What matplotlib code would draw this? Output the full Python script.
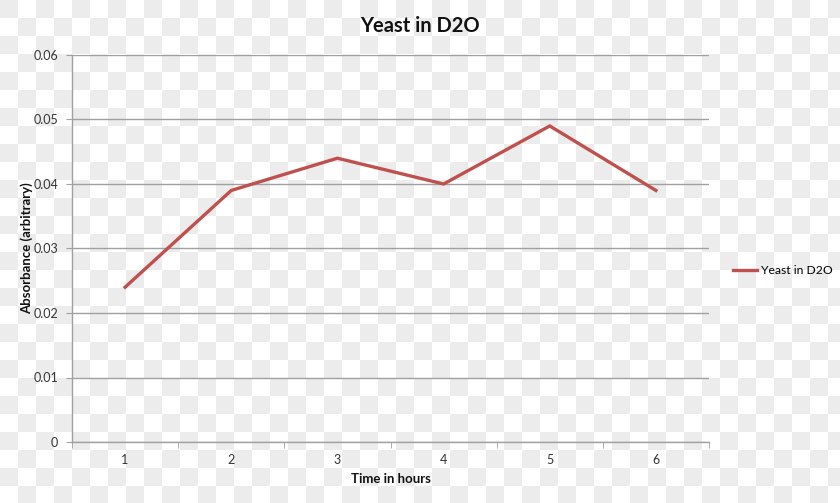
import numpy as np
import matplotlib
matplotlib.use("Agg")
import matplotlib.pyplot as plt

hours = [1, 2, 3, 4, 5, 6]
absorbance = [0.024, 0.039, 0.044, 0.040, 0.049, 0.039]
series_name = "Yeast in D2O"
yticks = [0, 0.01, 0.02, 0.03, 0.04, 0.05, 0.06]
ytick_labels = ["0", "0.01", "0.02", "0.03", "0.04", "0.05", "0.06"]

plt.rcParams['font.family'] = ['Lato', 'DejaVu Sans']

W, H = 840, 503
fig = plt.figure(figsize=(W / 100, H / 100), dpi=100)

# checkerboard background
bg = fig.add_axes([0, 0, 1, 1], zorder=0)
sq = 18
yy, xx = np.mgrid[0:H, 0:W]
checker = ((xx // sq + yy // sq) % 2 == 0)
img = np.where(checker, 0.922, 1.0)
bg.imshow(img, cmap='gray', vmin=0, vmax=1, aspect='auto', interpolation='nearest',
          extent=[0, W, H, 0])
bg.set_axis_off()

left, right, top, bottom = 72, 709, 55, 442
ax = fig.add_axes([left / W, 1 - bottom / H, (right - left) / W, (bottom - top) / H], zorder=1)
ax.set_facecolor('none')

ax.plot(hours, absorbance, color='#c0504d', lw=2.4, label=series_name, zorder=3,
        solid_joinstyle='miter')

ax.set_xlim(0.5, 6.5)
ax.set_ylim(0, 0.06)
ax.set_yticks(yticks)
ax.set_yticklabels(ytick_labels)
ax.set_xticks(hours)
ax.set_xticks([h + 0.5 for h in hours[:-1]] + [0.5, 6.5], minor=True)
ax.tick_params(axis='x', which='major', length=0, pad=9, labelsize=9, colors='#333333')
ax.tick_params(axis='x', which='minor', length=4, color='#a0a0a0', direction='out')
ax.tick_params(axis='y', length=4, color='#a0a0a0', pad=6, labelsize=9, labelcolor='#333333')

ax.yaxis.grid(True, color='#a0a0a0', lw=1)
ax.set_axisbelow(True)
for s in ['top', 'right']:
    ax.spines[s].set_visible(False)
for s in ['left', 'bottom']:
    ax.spines[s].set_color('#a0a0a0')
    ax.spines[s].set_linewidth(1)

ax.set_xlabel("Time in hours", fontsize=9.5, fontweight='bold', labelpad=5, color='#111111')
ax.set_ylabel("Absorbance (arbitrary)", fontsize=9.5, fontweight='bold', color='#111111')
ax.yaxis.set_label_coords((33 - left) / (right - left), 0.5)

fig.text(420 / W, 1 - 26 / H, "Yeast in D2O", ha='center', va='center', fontsize=14.5,
         fontweight='bold', color='#111111')

ax.legend(loc='center left', bbox_to_anchor=(727 / W, 1 - 271 / H), bbox_transform=fig.transFigure,
          frameon=False, fontsize=8.7, handlelength=2.0, handletextpad=0.3, borderpad=0)

fig.savefig("out.png", dpi=100)
